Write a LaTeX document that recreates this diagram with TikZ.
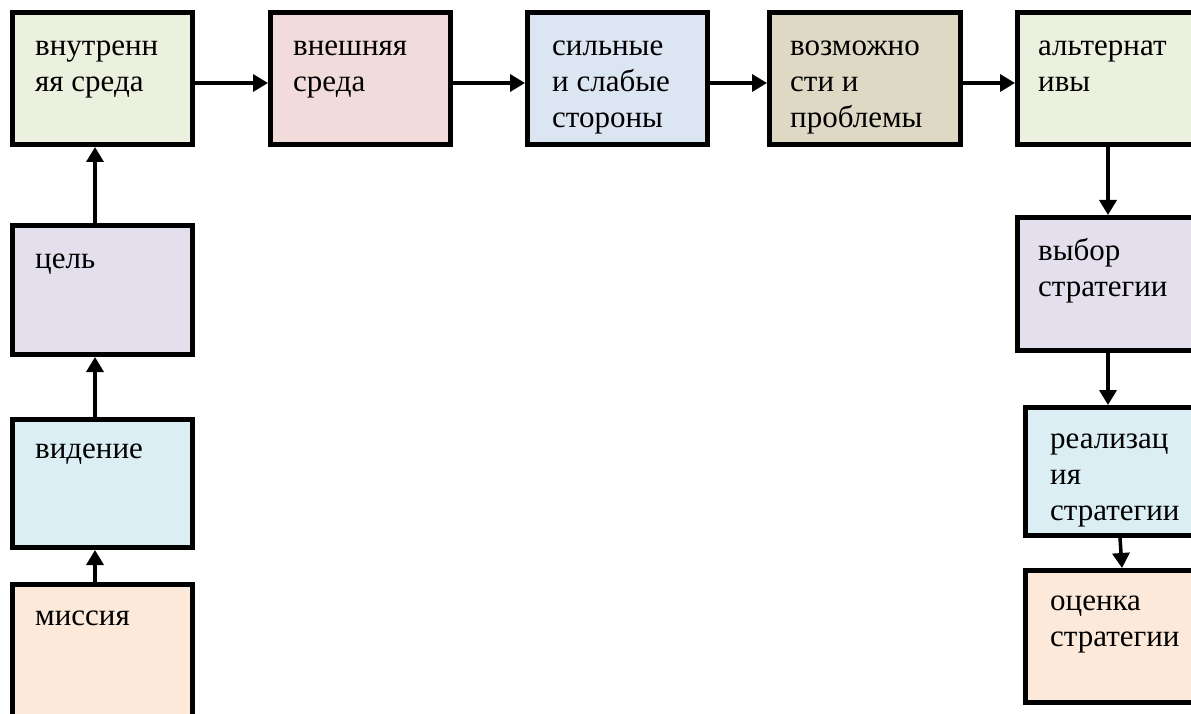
\documentclass[tikz,border=0pt]{standalone}
\usepackage{fontspec}
\setmainfont{Liberation Serif}
\newfontfamily\boxfont{Liberation Serif}
\usetikzlibrary{arrows.meta}
\definecolor{cgreen}{RGB}{235,241,222}
\definecolor{cpink}{RGB}{242,220,219}
\definecolor{cblue}{RGB}{220,230,242}
\definecolor{ctan}{RGB}{221,217,196}
\definecolor{cpurple}{RGB}{228,223,236}
\definecolor{clblue}{RGB}{219,238,244}
\definecolor{corange}{RGB}{252,233,217}
\begin{document}
\begin{tikzpicture}[x=1pt,y=-1pt,
  box/.style={draw=black, line width=5pt, rectangle, inner sep=0pt},
  lbl/.style={anchor=north west, inner sep=0pt, align=left, font=\boxfont\fontsize{31}{36}\selectfont},
  arr/.style={line width=3.5pt, -{Triangle[length=15pt,width=17pt]}}]
\useasboundingbox (0,0) rectangle (1191,714);
\clip (0,0) rectangle (1191,714);
\fill[white] (0,0) rectangle (1191,714);
% top row
\node[box, fill=cgreen, minimum width=180pt, minimum height=132pt] (A) at (102.5,78.5) {};
\node[box, fill=cpink, minimum width=180pt, minimum height=132pt] (B) at (360.5,78.5) {};
\node[box, fill=cblue, minimum width=180pt, minimum height=132pt] (C) at (617.5,78.5) {};
\node[box, fill=ctan, minimum width=191pt, minimum height=132pt] (D) at (865,78.5) {};
\node[box, fill=cgreen, minimum width=190pt, minimum height=132pt] (E) at (1112.5,78.5) {};
% left column
\node[box, fill=cpurple, minimum width=180pt, minimum height=129pt] (F) at (102.5,290) {};
\node[box, fill=clblue, minimum width=180pt, minimum height=128pt] (G) at (102.5,483.5) {};
\node[box, fill=corange, minimum width=180pt, minimum height=160pt] (H) at (102.5,664.5) {};
% right column
\node[box, fill=cpurple, minimum width=190pt, minimum height=133pt] (I) at (1112.5,284) {};
\node[box, fill=clblue, minimum width=185pt, minimum height=128pt] (J) at (1118,471.5) {};
\node[box, fill=corange, minimum width=185pt, minimum height=132pt] (K) at (1118,636.5) {};
% labels
\node[lbl] (tA) at (35,29.8) {\strut внутренн\\яя среда};
\node[lbl] (tB) at (293,29.8) {\strut внешняя\\среда};
\node[lbl] (tC) at (552,29.8) {\strut сильные\\и слабые\\стороны};
\node[lbl] (tD) at (790,29.8) {\strut возможно\\сти и\\проблемы};
\node[lbl] (tE) at (1038,29.8) {\strut альтернат\\ивы};
\node[lbl] (tF) at (35,242.8) {\strut цель};
\node[lbl] (tG) at (35,432.8) {\strut видение};
\node[lbl] (tH) at (35,599.8) {\strut миссия};
\node[lbl] (tI) at (1038,234.8) {\strut выбор\\стратегии};
\node[lbl] (tJ) at (1050,422.8) {\strut реализац\\ия\\стратегии};
\node[lbl] (tK) at (1050,584.8) {\strut оценка\\стратегии};
% arrows
\draw[arr] ([yshift=-4.5pt]A.east) -- ([yshift=-4.5pt]B.west);
\draw[arr] ([yshift=-4.5pt]B.east) -- ([yshift=-4.5pt]C.west);
\draw[arr] ([yshift=-4.5pt]C.east) -- ([yshift=-4.5pt]D.west);
\draw[arr] ([yshift=-4.5pt]D.east) -- ([yshift=-4.5pt]E.west);
\draw[arr] ([xshift=-7.5pt]H.north) -- ([xshift=-7.5pt]G.south);
\draw[arr] ([xshift=-7.5pt]G.north) -- ([xshift=-7.5pt]F.south);
\draw[arr] ([xshift=-7.5pt]F.north) -- ([xshift=-7.5pt]A.south);
\draw[arr] ([xshift=-4.5pt]E.south) -- ([xshift=-4.5pt]E.south |- I.north);
\draw[arr] ([xshift=-4.5pt]I.south) -- ([xshift=-4.5pt]I.south |- J.north);
\draw[arr] ([xshift=2pt]J.south) -- ([xshift=4pt]K.north);
\end{tikzpicture}
\end{document}
